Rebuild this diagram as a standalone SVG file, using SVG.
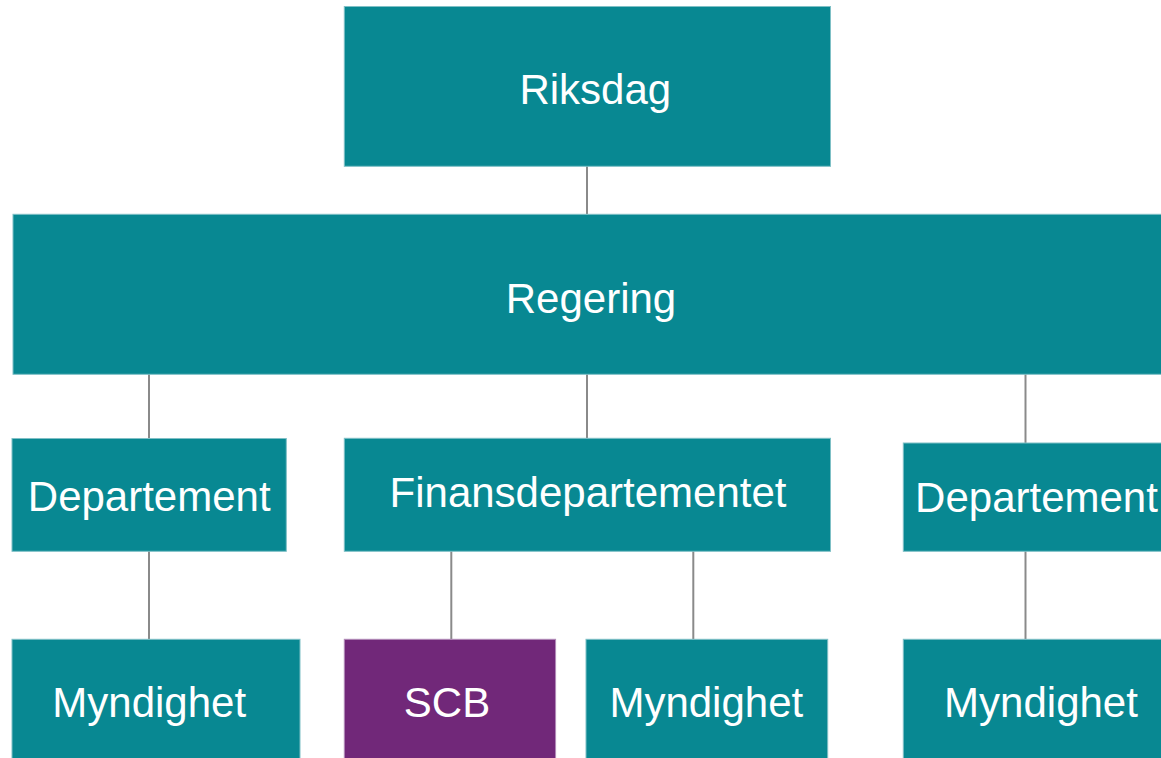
<svg xmlns="http://www.w3.org/2000/svg" width="1161" height="758" viewBox="0 0 1161 758">
<style>
.box{fill:#088892;stroke:#7fc0c6;stroke-width:1}
.scb{fill:#712879;stroke:#b28bb8;stroke-width:1}
.lbl{font-family:"Liberation Sans",Arial,sans-serif;font-size:42px;fill:#ffffff;text-anchor:middle}
.con{stroke:#8a8a8a;stroke-width:2;fill:none}
</style>
<rect width="1161" height="758" fill="#ffffff"/>
<g id="connectors">
<line class="con" x1="587" y1="166" x2="587" y2="214"/>
<line class="con" x1="149" y1="374" x2="149" y2="438"/>
<line class="con" x1="587" y1="374" x2="587" y2="438"/>
<line class="con" x1="1025.5" y1="374" x2="1025.5" y2="443"/>
<line class="con" x1="149" y1="551" x2="149" y2="639"/>
<line class="con" x1="451.3" y1="551" x2="451.3" y2="639"/>
<line class="con" x1="693.3" y1="551" x2="693.3" y2="639"/>
<line class="con" x1="1025.5" y1="551" x2="1025.5" y2="639"/>
</g>
<g id="riksdag">
<rect class="box" x="344.3" y="6.5" width="486.2" height="159.8"/>
<text class="lbl" x="595.3" y="104">Riksdag</text>
</g>
<g id="regering">
<rect class="box" x="13" y="214.3" width="1160" height="160"/>
<text class="lbl" x="591" y="313.3">Regering</text>
</g>
<g id="departement1">
<rect class="box" x="12" y="438.5" width="274.3" height="112.8"/>
<text class="lbl" x="149.2" y="511">Departement</text>
</g>
<g id="finansdepartementet">
<rect class="box" x="344.3" y="438.3" width="486.2" height="113"/>
<text class="lbl" x="588" y="506.7">Finansdepartementet</text>
</g>
<g id="departement2">
<rect class="box" x="903.3" y="443" width="270" height="108.3"/>
<text class="lbl" x="1036.5" y="511.7">Departement</text>
</g>
<g id="myndighet1">
<rect class="box" x="12" y="639.3" width="288" height="130"/>
<text class="lbl" x="149.2" y="717.3">Myndighet</text>
</g>
<g id="scb">
<rect class="scb" x="344.3" y="639.3" width="211.3" height="130"/>
<text class="lbl" x="447" y="716.7">SCB</text>
</g>
<g id="myndighet2">
<rect class="box" x="586" y="639.3" width="241.7" height="130"/>
<text class="lbl" x="706.3" y="716.7">Myndighet</text>
</g>
<g id="myndighet3">
<rect class="box" x="903.3" y="639.3" width="270" height="130"/>
<text class="lbl" x="1041" y="716.7">Myndighet</text>
</g>
</svg>
